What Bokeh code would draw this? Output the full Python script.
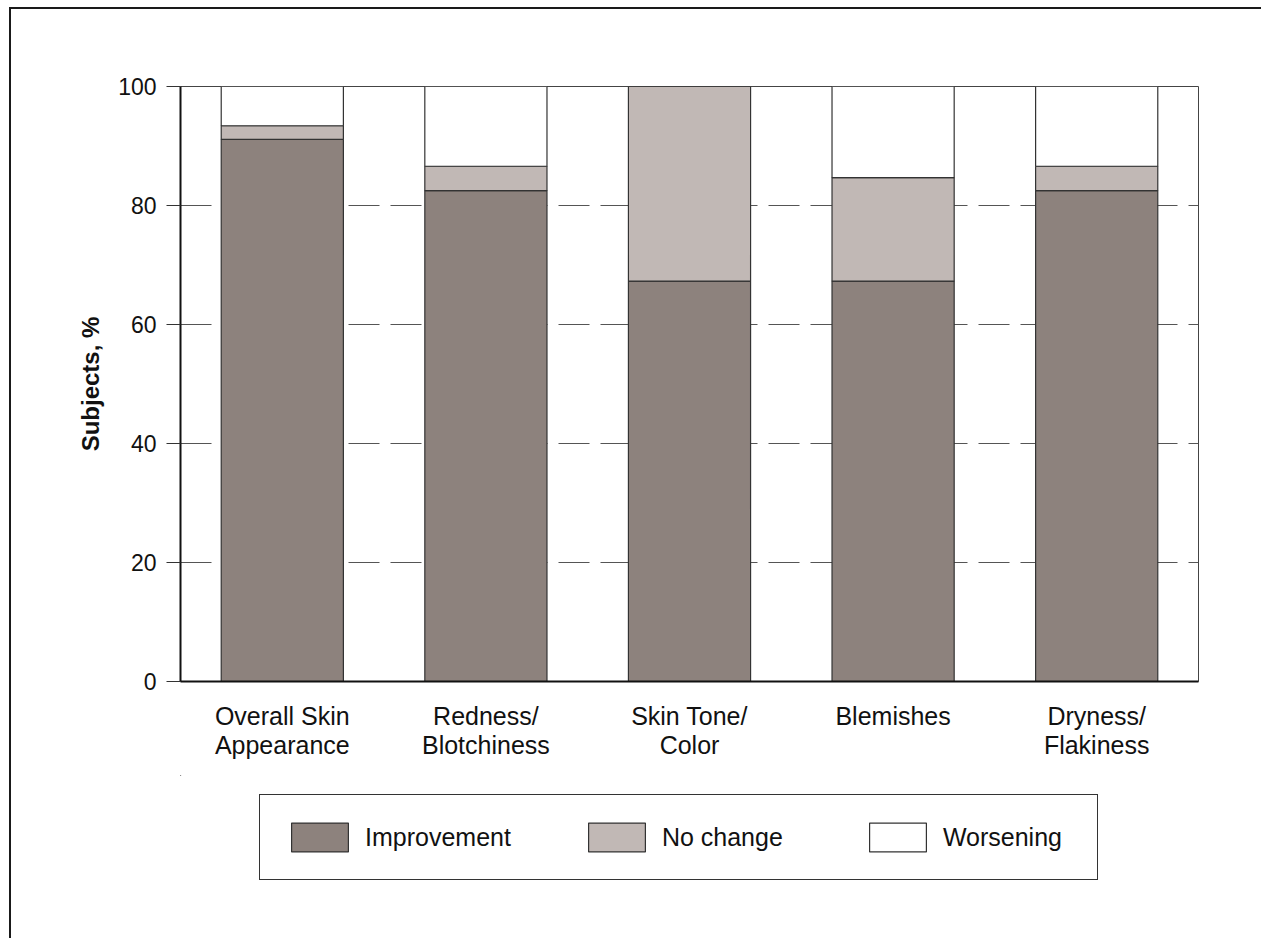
from bokeh.plotting import figure
from bokeh.layouts import column
from bokeh.models import FactorRange, Legend, LegendItem, FixedTicker, Range1d
from bokeh.embed import file_html
from bokeh.resources import INLINE

categories = ["Overall Skin\nAppearance", "Redness/\nBlotchiness", "Skin Tone/\nColor",
              "Blemishes", "Dryness/\nFlakiness"]
improvement = [91.1, 82.5, 67.3, 67.3, 82.5]
no_change = [2.3, 4.1, 32.7, 17.4, 4.1]
worsening = [round(100 - a - b, 1) for a, b in zip(improvement, no_change)]
series_names = ["Improvement", "No change", "Worsening"]
series_colors = ["#8d827d", "#c1b8b5", "#ffffff"]
y_ticks = [0, 20, 40, 60, 80, 100]

FONT = "Liberation Sans"

p = figure(x_range=FactorRange(*categories), y_range=(0, 100),
           width=1250, height=766, output_backend="svg", toolbar_location=None,
           min_border_left=169, min_border_top=77, min_border_right=63,
           min_border_bottom=94)

data = {"cat": categories, "Improvement": improvement, "No change": no_change,
        "Worsening": worsening}
rs = p.vbar_stack(series_names, x="cat", width=0.6, source=data,
                  fill_color=series_colors, line_color="#333333", line_width=1.2)

p.outline_line_color = "#444444"
p.outline_line_width = 1
p.background_fill_color = "white"
p.border_fill_color = "white"

p.xgrid.grid_line_color = None
p.ygrid.grid_line_color = "#555555"
p.ygrid.grid_line_dash = "31 11"
p.ygrid.grid_line_width = 1
p.ygrid.level = "underlay"

yax = p.yaxis[0]
yax.ticker = FixedTicker(ticks=y_ticks)
yax.axis_line_width = 2
yax.axis_line_color = "#111111"
yax.major_tick_out = 14
yax.major_tick_in = 0
yax.major_tick_line_color = "#333333"
yax.minor_tick_line_color = None
yax.major_label_standoff = 10
yax.major_label_text_font = FONT
yax.major_label_text_font_size = "23px"
yax.major_label_text_color = "#111111"
yax.axis_label = "Subjects, %"
yax.axis_label_text_font = FONT
yax.axis_label_text_font_style = "bold"
yax.axis_label_text_font_size = "24px"
yax.axis_label_text_color = "#111111"
yax.axis_label_standoff = 11

xax = p.xaxis[0]
xax.axis_line_width = 2
xax.axis_line_color = "#111111"
xax.major_tick_line_color = None
xax.minor_tick_line_color = None
xax.major_tick_out = 0
xax.major_label_standoff = 20
xax.major_label_text_font = FONT
xax.major_label_text_font_size = "25px"
xax.major_label_text_line_height = 1.05
xax.major_label_text_color = "#111111"

# legend panel below the chart (swatch proxies lie outside the visible ranges)
p2 = figure(width=1250, height=163, output_backend="svg", toolbar_location=None,
            x_range=Range1d(0, 1), y_range=Range1d(0, 1),
            x_axis_location=None, y_axis_location=None,
            min_border_left=169, min_border_right=63, min_border_top=0, min_border_bottom=0)
p2.grid.grid_line_color = None
p2.outline_line_color = None
p2.background_fill_color = "white"
p2.border_fill_color = "white"
proxy = {"x": [-10.0], "top": [11.0], "bottom": [10.0]}
legend_renderers = [p2.vbar(x="x", top="top", bottom="bottom", width=0.5, source=proxy,
                            fill_color=c, line_color="#333333", line_width=1.2)
                    for c in series_colors]

legend = Legend(items=[LegendItem(label=n, renderers=[r])
                       for n, r in zip(series_names, legend_renderers)],
                orientation="horizontal", location=(79, 58),
                glyph_width=71, glyph_height=36, label_standoff=10, label_width=130,
                spacing=70, padding=24, margin=0,
                label_text_font=FONT, label_text_font_size="25px", label_text_color="#111111",
                border_line_color="#333333", border_line_width=1.5, border_line_alpha=1,
                background_fill_color="white", background_fill_alpha=1)
p2.add_layout(legend, "center")

layout = column(p, p2, spacing=0)
layout.styles = {"border-top": "2px solid #1a1a1a", "border-left": "2px solid #1a1a1a",
                 "margin-left": "9px", "margin-top": "7px"}

open("out.html", "w").write(file_html(layout, INLINE))
